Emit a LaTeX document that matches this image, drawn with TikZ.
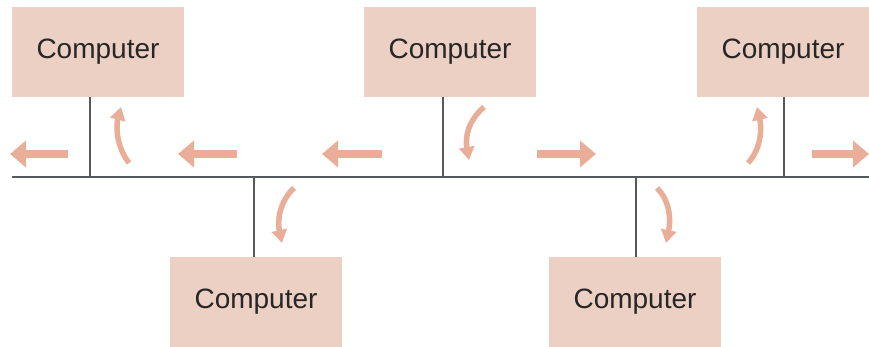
\documentclass[tikz,border=0pt]{standalone}
\usepackage{fontspec}
\setmainfont{Liberation Sans}
\usetikzlibrary{arrows.meta}
\definecolor{boxfill}{RGB}{236,208,196}
\definecolor{arrowc}{RGB}{232,174,152}
\definecolor{wire}{RGB}{85,88,92}
\tikzset{
  comp/.style={fill=boxfill, draw=none, minimum width=172pt, minimum height=90pt, inner sep=0pt,
    font=\fontsize{28}{32}\selectfont, text=black!85},
  bus/.style={draw=wire, line width=2.6pt},
  flow/.style={draw=arrowc, line width=8pt, -{Triangle[width=26pt,length=16pt]}},
  turn/.style={draw=arrowc, line width=5.5pt, -{Triangle[width=15pt,length=13pt]}}
}
\begin{document}
\begin{tikzpicture}[x=1pt,y=-1pt]
\useasboundingbox (0,0) rectangle (869,347);
% computers
\node[comp] (c1) at (98,52) {Computer};
\node[comp] (c2) at (450,52) {Computer};
\node[comp] (c3) at (783,52) {Computer};
\node[comp] (c4) at (256,302) {Computer};
\node[comp] (c5) at (635,302) {Computer};
% bus
\coordinate (busL) at (12,177);
\coordinate (busR) at (869,177);
\coordinate (t1) at (90,177);
\coordinate (t2) at (443,177);
\coordinate (t3) at (784,177);
\coordinate (t4) at (254,177);
\coordinate (t5) at (636,177);
\draw[bus] (busL) -- (busR);
\draw[bus] (c1.south -| t1) -- (t1);
\draw[bus] (c2.south -| t2) -- (t2);
\draw[bus] (c3.south -| t3) -- (t3);
\draw[bus] (c4.north -| t4) -- (t4);
\draw[bus] (c5.north -| t5) -- (t5);
% straight flow arrows
\coordinate (a1s) at (68,154); \coordinate (a1e) at (10,154);
\coordinate (a2s) at (237,154); \coordinate (a2e) at (178,154);
\coordinate (a3s) at (382,154); \coordinate (a3e) at (322,154);
\coordinate (a4s) at (537,154); \coordinate (a4e) at (596,154);
\coordinate (a5s) at (812,154); \coordinate (a5e) at (869,154);
\draw[flow] (a1s) -- (a1e);
\draw[flow] (a2s) -- (a2e);
\draw[flow] (a3s) -- (a3e);
\draw[flow] (a4s) -- (a4e);
\draw[flow] (a5s) -- (a5e);
% curved arrows
\draw[turn] (129,163) .. controls (116,146) and (116,126) .. (121,107);
\draw[turn] (484,107) .. controls (468,121) and (465,137) .. (469,160);
\draw[turn] (748,163) .. controls (761,149) and (762,129) .. (757,107);
\draw[turn] (294,188) .. controls (280,201) and (277,220) .. (282,243);
\draw[turn] (657,188) .. controls (670,201) and (671,220) .. (666,243);
\end{tikzpicture}
\end{document}
